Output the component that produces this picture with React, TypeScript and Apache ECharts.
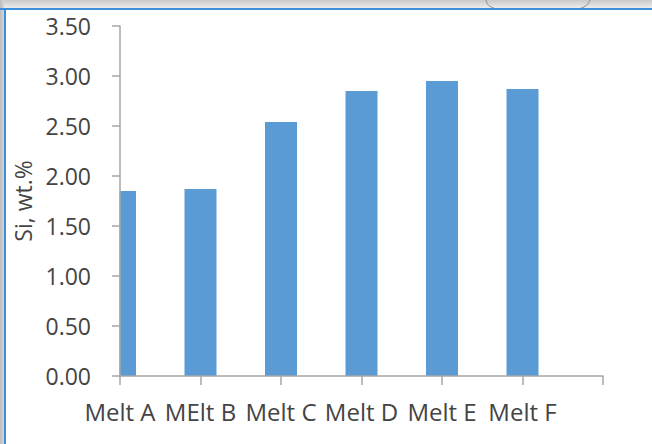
import React, { useEffect, useRef } from "react";
import * as echarts from "echarts";

const categories = ["Melt A", "MElt B", "Melt C", "Melt D", "Melt E", "Melt F", ""];
const siValues: number[] = [1.85, 1.87, 2.54, 2.85, 2.95, 2.87];
const yAxisTitle = "Si, wt.%";
const yMin = 0;
const yMax = 3.5;
const yStep = 0.5;

const FONT = "'Open Sans', 'Noto Sans', sans-serif";
const TEXT = "#444444";

export default function App() {
  const ref = useRef<HTMLDivElement>(null);
  useEffect(() => {
    document.body.style.margin = "0";
    if (!ref.current) return;
    const chart = echarts.init(ref.current, null, { renderer: "svg" });
    chart.setOption({
      animation: false,
      backgroundColor: "#ffffff",
      grid: { left: 120, right: 49, top: 26, bottom: 68, containLabel: false },
      xAxis: {
        type: "value",
        min: 0,
        max: categories.length - 1,
        interval: 1,
        z: 10,
        axisLine: { show: true, onZero: false, lineStyle: { color: "#a6a6a6", width: 1.5 } },
        axisTick: { show: true, length: 9, lineStyle: { color: "#a6a6a6", width: 1.5 } },
        axisLabel: {
          color: TEXT,
          fontSize: 24,
          fontFamily: FONT,
          margin: 23,
          showMinLabel: true,
          showMaxLabel: true,
          formatter: (v: number) => categories[Math.round(v)] ?? "",
        },
        splitLine: { show: false },
      },
      yAxis: {
        type: "value",
        min: yMin,
        max: yMax,
        interval: yStep,
        z: 10,
        name: yAxisTitle,
        nameLocation: "middle",
        nameGap: 73,
        nameRotate: 90,
        nameTextStyle: { color: TEXT, fontSize: 23, fontFamily: FONT },
        axisLine: { show: true, lineStyle: { color: "#a6a6a6", width: 1.5 } },
        axisTick: { show: true, length: 8, lineStyle: { color: "#a6a6a6", width: 1.5 } },
        axisLabel: {
          color: TEXT,
          fontSize: 23,
          fontFamily: FONT,
          margin: 29,
          formatter: (v: number) => v.toFixed(2),
        },
        splitLine: { show: false },
      },
      series: [
        {
          type: "bar",
          data: siValues.map((v, i) => [i, v]),
          barWidth: 32,
          clip: true,
          z: 2,
          itemStyle: { color: "#5b9bd5" },
        },
      ],
      graphic: [
        {
          // mask: hides the part of the first bar that lies left of the plot area
          type: "rect",
          shape: { x: 93, y: 18, width: 26.5, height: 358 },
          style: { fill: "#ffffff" },
          z: 5,
        },
        {
          type: "rect",
          shape: { x: 0, y: 0, width: 652, height: 8 },
          style: {
            fill: new echarts.graphic.LinearGradient(0, 0, 0, 1, [
              { offset: 0, color: "#c9c9c9" },
              { offset: 1, color: "#ececec" },
            ]),
          },
          z: 100,
        },
        {
          type: "bezierCurve",
          shape: { x1: 486, y1: 0, x2: 494, y2: 8, cpx1: 487, cpy1: 5, cpx2: 490, cpy2: 7 },
          style: { stroke: "#8a8a8a", lineWidth: 1, fill: null },
          z: 101,
        },
        {
          type: "bezierCurve",
          shape: { x1: 590, y1: 0, x2: 581, y2: 8, cpx1: 589, cpy1: 4, cpx2: 585, cpy2: 7 },
          style: { stroke: "#8a8a8a", lineWidth: 1, fill: null },
          z: 101,
        },
        {
          type: "rect",
          shape: { x: 0, y: 8, width: 652, height: 2 },
          style: { fill: "#3a8fd8" },
          z: 102,
        },
        {
          type: "rect",
          shape: { x: 0, y: 0, width: 4, height: 444 },
          style: {
            fill: new echarts.graphic.LinearGradient(0, 0, 1, 0, [
              { offset: 0, color: "#bdbdbd" },
              { offset: 1, color: "#d6d6d6" },
            ]),
          },
          z: 100,
        },
        {
          type: "rect",
          shape: { x: 4, y: 8, width: 2, height: 436 },
          style: { fill: "#3a8fd8" },
          z: 102,
        },
      ],
    });
    return () => chart.dispose();
  }, []);
  return <div ref={ref} style={{ width: 652, height: 444 }} />;
}
